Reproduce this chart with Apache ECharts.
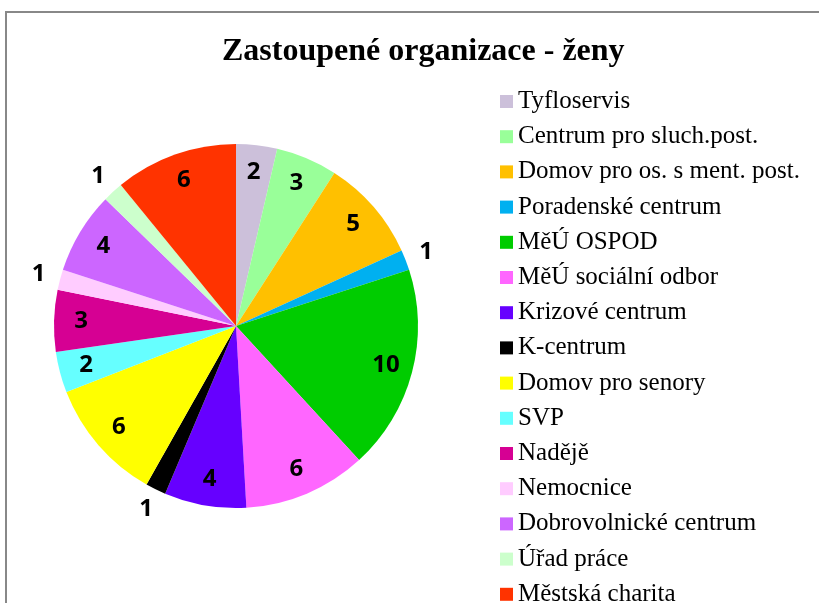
<!DOCTYPE html>
<html>
<head>
<meta charset="utf-8">
<script src="https://cdn.jsdelivr.net/npm/echarts@6/dist/echarts.min.js"></script>
<style>
  html, body { margin: 0; padding: 0; background: #fff; }
  #chart { width: 819px; height: 603px; }
</style>
</head>
<body>
<div id="chart"></div>
<script>
// data
var categories = ['Tyfloservis', 'Centrum pro sluch.post.', 'Domov pro os. s ment. post.', 'Poradenské centrum',
  'MěÚ OSPOD', 'MěÚ sociální odbor', 'Krizové centrum', 'K-centrum', 'Domov pro senory', 'SVP',
  'Nadějě', 'Nemocnice', 'Dobrovolnické centrum', 'Úřad práce', 'Městská charita'];
var values = [2, 3, 5, 1, 10, 6, 4, 1, 6, 2, 3, 1, 4, 1, 6];
var colors = ['#CCC0DA', '#99FF99', '#FFC000', '#00B0F0', '#00CC00', '#FF66FF', '#6600FF', '#000000',
  '#FFFF00', '#66FFFF', '#D60093', '#FFCCFF', '#CC66FF', '#CCFFCC', '#FF3300'];

var chart = echarts.init(document.getElementById('chart'));

var pieData = categories.map(function (name, i) {
  return { name: name, value: values[i], itemStyle: { color: colors[i] } };
});

// labels: big slices inside, the "1" slices just outside
var innerLabels = categories.map(function (name, i) {
  return { name: name, value: values[i], label: { show: values[i] > 1 } };
});
var outerLabels = categories.map(function (name, i) {
  return { name: name, value: values[i], label: { show: values[i] === 1 } };
});

var labelStyle = {
  position: 'inside',
  formatter: '{c}',
  color: '#000',
  fontFamily: 'Open Sans',
  fontWeight: 'bold',
  fontSize: 24
};

var option = {
  animation: false,
  color: colors,
  title: {
    text: 'Zastoupené organizace - ženy',
    left: 217,
    top: 31,
    textStyle: {
      fontFamily: 'Liberation Serif',
      fontWeight: 'bold',
      fontSize: 32,
      color: '#000'
    }
  },
  legend: {
    orient: 'vertical',
    left: 495,
    top: 84,
    height: 560,
    itemWidth: 13,
    itemHeight: 13,
    itemGap: 10.2,
    icon: 'rect',
    selectedMode: false,
    data: categories,
    textStyle: {
      fontFamily: 'Liberation Serif',
      fontSize: 25,
      lineHeight: 25,
      color: '#000'
    }
  },
  graphic: [{
    type: 'rect',
    shape: { x: 6, y: 12, width: 900, height: 700 },
    style: { fill: 'none', stroke: '#888', lineWidth: 2 },
    z: -1
  }],
  series: [{
    type: 'pie',
    center: [236, 326],
    radius: [0, 182],
    startAngle: 90,
    clockwise: true,
    label: { show: false },
    labelLine: { show: false },
    emphasis: { disabled: true },
    data: pieData
  }, {
    type: 'pie',
    center: [236, 326],
    radius: [122, 182],
    startAngle: 90,
    itemStyle: { color: 'transparent' },
    label: labelStyle,
    labelLine: { show: false },
    emphasis: { disabled: true },
    silent: true,
    data: innerLabels
  }, {
    type: 'pie',
    center: [236, 326],
    radius: [184, 218],
    startAngle: 90,
    itemStyle: { color: 'transparent' },
    label: labelStyle,
    labelLine: { show: false },
    emphasis: { disabled: true },
    silent: true,
    data: outerLabels
  }]
};

chart.setOption(option);
</script>
</body>
</html>
